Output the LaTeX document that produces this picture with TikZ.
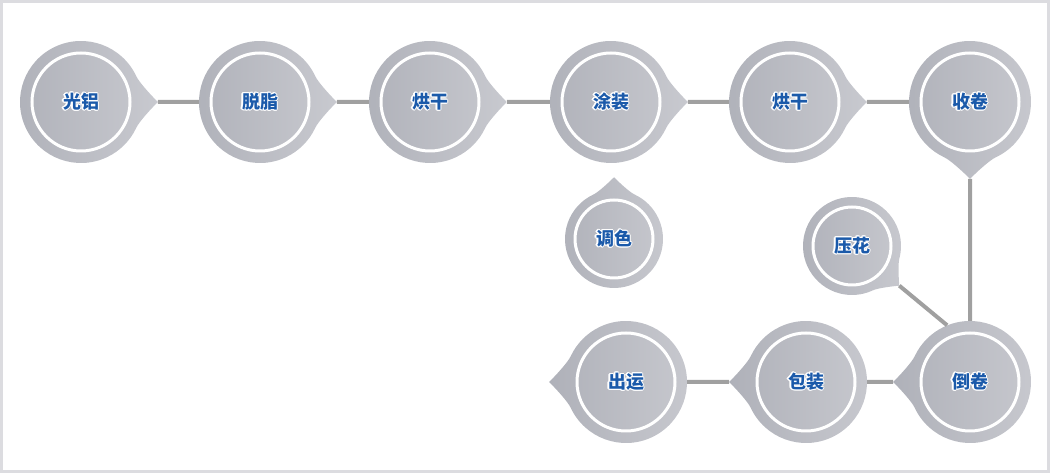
\documentclass[tikz,border=0pt]{standalone}
\usepackage{fontspec}
\newfontfamily\cjk{Noto Sans CJK SC}
\usepackage{contour}
\contourlength{1.1pt}
\contournumber{12}
\usetikzlibrary{positioning,calc,backgrounds}

\definecolor{linkgray}{HTML}{A0A0A0}
\definecolor{metaldark}{HTML}{AFB1B9}
\definecolor{metallight}{HTML}{C8C9CF}
\definecolor{textblue}{HTML}{1B5AAA}
\definecolor{framegray}{HTML}{DCDCE0}

% drop shape behind a station: node, radius, tip angle, ring radius
\newcommand{\dropshape}[4]{%
  \shade[left color=metaldark, right color=metallight]
    ($(#1)+(#3+25:#2)$) arc[start angle=#3+25, end angle=#3+335, radius=#2]
    .. controls ($(#1)+(#3-18.2:1.007*#2)$) and ($(#1)+(#3-4.1:1.178*#2)$) .. ($(#1)+(#3:1.26*#2)$)
    .. controls ($(#1)+(#3+4.1:1.178*#2)$) and ($(#1)+(#3+18.2:1.007*#2)$) .. cycle;
  \draw[white, line width=3pt] (#1) circle[radius=#4];
  \coordinate (#1-tip) at ($(#1)+(#3:1.26*#2)$);
}

\tikzset{
  station/.style={circle, minimum size=122pt, inner sep=0pt, text=textblue,
    font=\cjk\bfseries\fontsize{18}{18}\selectfont},
  small station/.style={station, minimum size=98pt},
  link/.style={draw=linkgray, line width=4pt},
}

\begin{document}
\begin{tikzpicture}[x=1pt,y=1pt,on grid]
  \useasboundingbox (0,0) rectangle (1050,473);
  \draw[framegray, line width=3pt] (1.5,1.5) rectangle (1048.5,471.5);

  \node[station]        (guanglv)               at (81,371)          {\contour{white}{光铝}};
  \node[station]        (tuozhi)    [right=179pt of guanglv]          {\contour{white}{脱脂}};
  \node[station]        (honggana)  [right=170pt of tuozhi]           {\contour{white}{烘干}};
  \node[station]        (tuzhuang)  [right=181pt of honggana]         {\contour{white}{涂装}};
  \node[station]        (ganggb)    [right=179pt of tuzhuang]         {\contour{white}{烘干}};
  \node[station]        (shoujuan)  [right=180pt of ganggb]           {\contour{white}{收卷}};
  \node[station]        (daojuan)   [below=280pt of shoujuan]         {\contour{white}{倒卷}};
  \node[station]        (baozhuang) [left=164pt of daojuan]           {\contour{white}{包装}};
  \node[station]        (chuyun)    [left=180pt of baozhuang]         {\contour{white}{出运}};
  \node[small station]  (tiaose)    [below right=137pt and 3pt of tuzhuang] {\contour{white}{调色}};
  \node[small station]  (yahua)     [above left=136pt and 118pt of daojuan] {\contour{white}{压花}};

  \begin{pgfonlayer}{background}
    \dropshape{guanglv}{61}{0}{49}
    \dropshape{tuozhi}{61}{0}{49}
    \dropshape{honggana}{61}{0}{49}
    \dropshape{tuzhuang}{61}{0}{49}
    \dropshape{ganggb}{61}{0}{49}
    \dropshape{shoujuan}{61}{-90}{49}
    \dropshape{daojuan}{61}{180}{49}
    \dropshape{baozhuang}{61}{180}{49}
    \dropshape{chuyun}{61}{180}{49}
    \dropshape{tiaose}{49}{90}{39}
    \dropshape{yahua}{49}{-40}{39}
  \end{pgfonlayer}

  \path[link]
    (guanglv-tip)   -- (tuozhi)
    (tuozhi-tip)    -- (honggana)
    (honggana-tip)  -- (tuzhuang)
    (tuzhuang-tip)  -- (ganggb)
    (ganggb-tip)    -- (shoujuan)
    (shoujuan-tip)  -- (daojuan)
    (yahua-tip)     -- (daojuan.112)
    (daojuan-tip)   -- (baozhuang)
    (baozhuang-tip) -- (chuyun)
  ;
\end{tikzpicture}
\end{document}
